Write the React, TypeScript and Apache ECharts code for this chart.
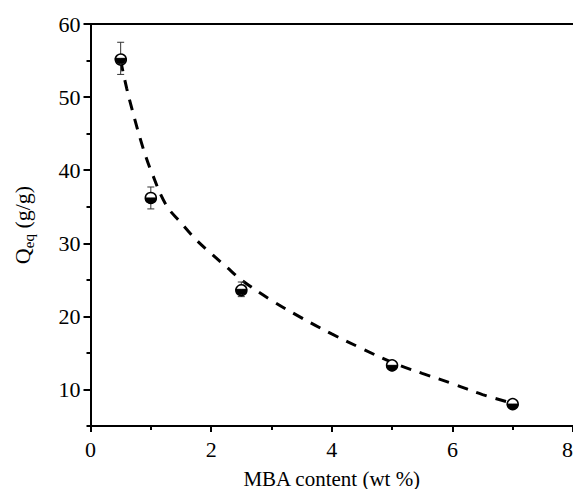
import React, { useEffect, useRef } from "react";
import * as echarts from "echarts";

const xValues = [0.5, 1, 2.5, 5, 7];
const qValues = [55.3, 36.2, 23.7, 13.3, 8.0];
const qErrors = [2.2, 1.5, 1.0, 0.3, 0.4];

const fitX = [0.5, 0.6, 0.7, 0.8, 0.9, 1.0, 1.25, 1.5, 1.75, 2.0, 2.25, 2.5, 3.0, 3.5, 4.0, 4.5, 5.0, 5.5, 6.0, 6.5, 7.0];
const fitY = [55.0, 51.2, 48.0, 45.0, 42.3, 40.0, 35.3, 32.8, 30.5, 28.6, 26.8, 25.0, 22.2, 19.8, 17.6, 15.6, 13.7, 12.2, 10.8, 9.3, 8.1];

const xTicks = [0, 2, 4, 6, 8];
const xMinorTicks = [1, 3, 5, 7];
const yTicks = [10, 20, 30, 40, 50, 60];
const yMinorTicks = [5, 15, 25, 35, 45, 55];

const FONT = "'Liberation Serif', 'Times New Roman', serif";

export default function App() {
  const ref = useRef<HTMLDivElement>(null);
  useEffect(() => {
    if (!ref.current) return;
    const chart = echarts.init(ref.current, null, { renderer: "svg" });
    const axisLine = { show: true, lineStyle: { color: "#000", width: 2 } };
    const option: any = {
      animation: false,
      backgroundColor: "#fff",
      textStyle: { fontFamily: FONT, color: "#000" },
      grid: { left: 90.5, top: 24, right: 0, bottom: 63, containLabel: false, outerBoundsMode: "none" },
      xAxis: [
        {
          type: "value",
          min: 0,
          max: 8,
          position: "bottom",
          axisLine,
          splitLine: { show: false },
          axisTick: { show: true, customValues: xTicks, length: 6, lineStyle: { width: 2, color: "#000" } },
          axisLabel: {
            customValues: xTicks,
            fontSize: 22,
            color: "#000",
            fontFamily: FONT,
            margin: 12,
            alignMaxLabel: "right",
          },
          name: "MBA content (wt %)",
          nameLocation: "middle",
          nameGap: 42,
          nameTextStyle: { fontSize: 21, color: "#000", fontFamily: FONT },
        },
        {
          type: "value",
          min: 0,
          max: 8,
          position: "bottom",
          axisLine: { show: false },
          splitLine: { show: false },
          axisTick: { show: true, customValues: xMinorTicks, length: 4, lineStyle: { width: 2, color: "#000" } },
          axisLabel: { show: false },
        },
        {
          type: "value",
          min: 0,
          max: 8,
          position: "top",
          axisLine,
          splitLine: { show: false },
          axisTick: { show: false },
          axisLabel: { show: false },
        },
      ],
      yAxis: [
        {
          type: "value",
          min: 5,
          max: 60,
          position: "left",
          axisLine,
          splitLine: { show: false },
          axisTick: { show: true, customValues: yTicks, length: 7, lineStyle: { width: 2, color: "#000" } },
          axisLabel: { customValues: yTicks, fontSize: 22, color: "#000", fontFamily: FONT, margin: 10 },
          name: "{q|Q}{s|eq}{q| (g/g)}",
          nameLocation: "middle",
          nameGap: 55,
          nameTextStyle: {
            fontFamily: FONT,
            color: "#000",
            rich: {
              q: { fontSize: 22, fontFamily: FONT, color: "#000", lineHeight: 26 },
              s: { fontSize: 15, fontFamily: FONT, color: "#000", lineHeight: 15, padding: [12, 0, 0, 0] },
            },
          },
        },
        {
          type: "value",
          min: 5,
          max: 60,
          position: "left",
          axisLine: { show: false },
          splitLine: { show: false },
          axisTick: { show: true, customValues: yMinorTicks, length: 4, lineStyle: { width: 2, color: "#000" } },
          axisLabel: { show: false },
        },
        {
          type: "value",
          min: 5,
          max: 60,
          position: "right",
          axisLine,
          splitLine: { show: false },
          axisTick: { show: false },
          axisLabel: { show: false },
        },
      ],
      series: [
        {
          type: "line",
          xAxisIndex: 0,
          yAxisIndex: 0,
          data: fitX.map((x, i) => [x, fitY[i]]),
          smooth: 0.4,
          symbol: "none",
          lineStyle: { color: "#000", width: 3, type: [11, 9], cap: "butt" },
          z: 2,
        },
        {
          type: "custom",
          xAxisIndex: 0,
          yAxisIndex: 0,
          data: xValues.map((x, i) => [x, qValues[i], qErrors[i]]),
          z: 5,
          renderItem: (params: any, api: any) => {
            const x = api.value(0);
            const y = api.value(1);
            const e = api.value(2);
            const c = api.coord([x, y]);
            const t = api.coord([x, y + e]);
            const b = api.coord([x, y - e]);
            const cap = 3.5;
            const r = 5.5;
            const errStyle = { stroke: "#333", lineWidth: 1 };
            return {
              type: "group",
              children: [
                { type: "line", shape: { x1: c[0], y1: t[1], x2: c[0], y2: b[1] }, style: errStyle },
                { type: "line", shape: { x1: c[0] - cap, y1: t[1], x2: c[0] + cap, y2: t[1] }, style: errStyle },
                { type: "line", shape: { x1: c[0] - cap, y1: b[1], x2: c[0] + cap, y2: b[1] }, style: errStyle },
                { type: "circle", shape: { cx: c[0], cy: c[1], r }, style: { fill: "#fff", stroke: "#000", lineWidth: 1.5 } },
                {
                  type: "sector",
                  shape: { cx: c[0], cy: c[1], r0: 0, r, startAngle: 0, endAngle: Math.PI, clockwise: true },
                  style: { fill: "#000", stroke: "#000", lineWidth: 1 },
                },
              ],
            };
          },
        },
      ],
    };
    chart.setOption(option);
    return () => chart.dispose();
  }, []);
  return (
    <div
      ref={ref}
      style={{ position: "fixed", left: 0, top: 0, width: 573, height: 489, background: "#fff" }}
    />
  );
}
